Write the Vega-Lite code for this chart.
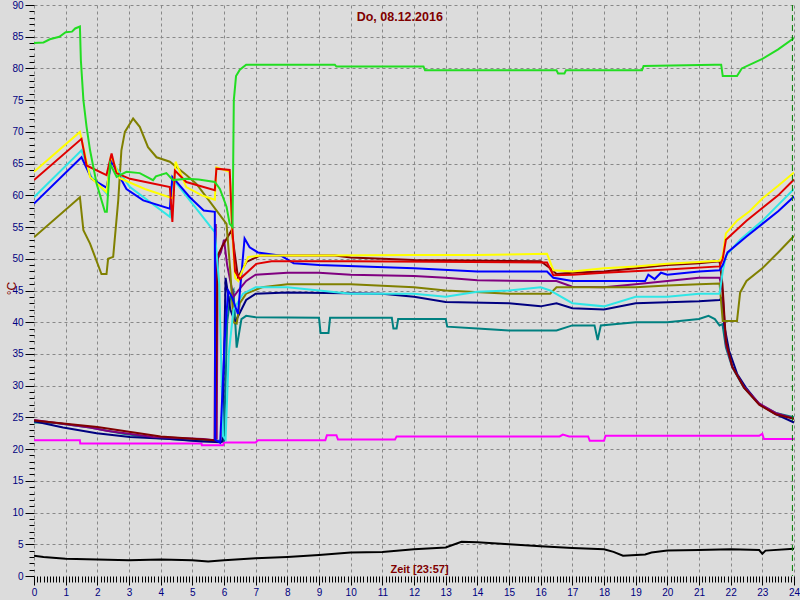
{
  "$schema": "https://vega.github.io/schema/vega-lite/v6.json",
  "width": 760,
  "height": 571,
  "autosize": {"type": "none"},
  "padding": {"left": 34, "top": 5, "right": 6, "bottom": 24},
  "background": "#dcdcdc",
  "config": {"view": {"stroke": null, "fill": "#dcdcdc"}},
  "layer": [
    {
      "data": {"values": [
        {"s": "schwarz", "x": [0, 0.3, 1, 2, 3, 4, 5, 5.5, 6, 7, 8, 9, 10, 11, 12, 13, 13.5, 14, 15, 16, 17, 18, 18.3, 18.6, 19.3, 19.5, 20, 21, 22, 22.9, 23, 23.1, 24],
         "y": [3.2, 3.0, 2.7, 2.6, 2.5, 2.6, 2.5, 2.3, 2.5, 2.8, 3.0, 3.3, 3.7, 3.8, 4.2, 4.5, 5.4, 5.3, 5.0, 4.7, 4.4, 4.2, 3.8, 3.2, 3.4, 3.7, 4.0, 4.1, 4.2, 4.1, 3.5, 4.0, 4.3]},
        {"s": "magenta", "x": [0, 1.45, 1.46, 5.29, 5.3, 5.97, 6.0, 7.0, 7.07, 9.2, 9.25, 9.55, 9.6, 11.4, 11.45, 16.6, 16.7, 16.9, 17.5, 17.55, 18.0, 18.05, 22.9, 23.0, 23.05, 24],
         "y": [21.4, 21.4, 20.9, 20.9, 20.6, 20.6, 21.05, 21.05, 21.4, 21.4, 22.2, 22.2, 21.5, 21.5, 22, 22, 22.3, 22, 22, 21.3, 21.3, 22.1, 22.1, 22.4, 21.6, 21.6]},
        {"s": "teal", "x": [0, 0.7, 1.77, 2.82, 3.76, 5.1, 5.95, 6.0, 6.1, 6.2, 6.3, 6.4, 6.55, 6.7, 7, 9, 9.05, 9.3, 9.35, 11.3, 11.35, 11.45, 11.5, 13, 13.05, 14, 15, 16.5, 17, 17.7, 17.8, 17.9, 19, 20, 21, 21.3, 21.5, 21.65, 21.74, 21.85, 22.05, 22.42, 22.9, 23.42, 24],
         "y": [24.2, 24.1, 23.4, 22.4, 21.8, 21.3, 21.3, 21.3, 40, 44, 45, 36, 40.5, 41, 40.8, 40.7, 38.3, 38.3, 40.7, 40.7, 39, 39, 40.5, 40.5, 39.3, 39, 38.7, 38.7, 39.5, 39.5, 37.2, 39.5, 40, 40, 40.5, 41, 40.5, 39.5, 39.7, 36, 32.9, 29.7, 27.1, 25.7, 25]},
        {"s": "navy", "x": [0, 0.92, 1.98, 3.03, 4.29, 5.32, 5.9, 5.95, 6.05, 6.2, 6.35, 6.5, 6.7, 7, 8, 11, 12, 13, 15, 16, 16.5, 17, 18, 19, 21, 21.65, 21.74, 21.79, 21.95, 22.21, 22.48, 22.9, 23.42, 24],
         "y": [24.4, 23.4, 22.5, 21.9, 21.6, 21.2, 21.1, 21.2, 47, 42, 40, 41.5, 43.5, 44.5, 44.7, 44.5, 44, 43.2, 43, 42.5, 43, 42.2, 42, 43, 43.3, 43.5, 43.9, 39.7, 35.5, 31.8, 29.7, 27.1, 25.5, 24.2]},
        {"s": "lila", "x": [0, 1.77, 2.29, 3.76, 5.34, 5.7, 5.74, 5.77, 5.8, 5.9, 6.0, 6.1, 6.3, 6.45, 6.7, 7, 8, 9, 10, 12, 13, 14, 16, 16.5, 17, 18, 19, 20, 21, 21.65, 21.74, 21.85, 22.05, 22.42, 22.9, 23.42, 24],
         "y": [24.6, 23.4, 22.9, 21.9, 21.6, 21.4, 55.5, 21.5, 50, 51, 53, 49, 44, 45, 46.5, 47.5, 47.8, 47.8, 47.5, 47.3, 47, 46.6, 46.5, 46.5, 45.6, 45.5, 46, 46.5, 47, 47, 45, 36.5, 33, 29.8, 27.2, 25.7, 24.8]},
        {"s": "bordeaux", "x": [0, 2, 4, 5.7, 5.72, 5.8, 5.95, 6.24, 6.44, 6.71, 7.13, 9.5, 10, 12, 16, 16.3, 16.5, 17, 18, 19, 20, 21, 21.65, 21.74, 21.85, 22.05, 22.42, 22.9, 23.42, 24],
         "y": [24.5, 23.5, 22, 21.4, 21.4, 50.5, 52, 54.5, 47.1, 49.5, 50.5, 50.5, 50.2, 49.8, 49.6, 48.5, 47.6, 47.8, 48, 48.5, 49, 49.3, 49.6, 46, 37, 33, 29.7, 27, 25.5, 24.8]},
        {"s": "oliv", "x": [0, 1.45, 1.56, 1.77, 2.13, 2.29, 2.34, 2.5, 2.66, 2.76, 2.87, 3.13, 3.34, 3.6, 3.87, 4.29, 4.81, 5.13, 5.6, 6.08, 6.2, 6.3, 6.4, 6.5, 6.7, 7.2, 8, 10, 12, 13, 15, 16.3, 16.5, 19, 20, 21, 21.65, 21.75, 22.2, 22.3, 22.5, 23, 23.5, 24],
         "y": [53.4, 59.7, 54.5, 52.4, 47.6, 47.6, 50, 50.3, 59.2, 67.1, 70, 72.1, 70.8, 67.6, 66, 65.3, 63.2, 61.8, 58.7, 55.5, 48, 40, 39.8, 43, 44.5, 45.5, 46, 46, 45.5, 45, 44.5, 44.5, 45.5, 45.5, 45.8, 46, 46.1, 40.2, 40.2, 44.7, 46.5, 48.5, 51, 53.6]},
        {"s": "tuerkis", "x": [0, 1.5, 1.8, 2.29, 2.43, 3.03, 4.29, 4.37, 4.92, 5.71, 5.85, 5.97, 6.05, 6.15, 6.3, 6.6, 7, 8, 9, 10, 12, 13, 14, 15, 16, 16.3, 17, 18, 19, 20, 21, 21.65, 21.75, 21.85, 22.3, 23, 23.5, 24],
         "y": [59.7, 67.1, 63, 60.3, 65.5, 61.3, 56.6, 62.7, 59.2, 54.2, 46, 22, 21.5, 35, 42, 44.5, 45.5, 45.5, 45, 44.5, 44.5, 44, 44.8, 45, 45.5, 45, 43, 42.5, 44, 44, 44.5, 44.5, 48, 50.5, 53, 56, 58.5, 61]},
        {"s": "blau", "x": [0, 1.5, 1.82, 2.29, 2.45, 2.92, 3.45, 4.29, 4.37, 4.92, 5.36, 5.71, 5.72, 5.88, 6.02, 6.13, 6.25, 6.44, 6.65, 6.81, 7.07, 7.8, 8.2, 9, 12, 14, 16.2, 16.4, 17, 19.3, 19.4, 19.6, 19.8, 20, 21, 21.65, 21.75, 21.9, 22.5, 23, 23.5, 24],
         "y": [58.7, 66, 62.6, 61.2, 65.3, 61, 59.2, 57.9, 62.9, 59.7, 57.6, 57.4, 21.5, 21, 37, 45, 44, 41.3, 53.2, 51.8, 51, 50.5, 49.3, 49, 48.5, 48, 48, 47, 46.5, 46.5, 47.5, 46.8, 47.8, 47.5, 48, 48.2, 49, 51, 53.5, 55.5, 57.5, 59.8]},
        {"s": "gelb", "x": [0, 1.45, 1.77, 2.29, 2.43, 2.71, 3.5, 4.39, 4.47, 4.81, 5.3, 5.71, 5.76, 6.18, 6.25, 6.35, 6.45, 6.76, 7.2, 9, 12, 14, 16.2, 16.4, 17, 18, 19, 20, 21, 21.65, 21.75, 21.85, 22.2, 22.6, 23, 23.5, 24],
         "y": [63.7, 70, 62.9, 60.5, 66.3, 62.7, 61, 59.5, 65.3, 61.3, 60, 59.3, 64.4, 63.7, 55, 47, 46.5, 50.3, 50.5, 50.5, 50.6, 50.6, 50.8, 48.2, 48, 48.5, 48.8, 49.2, 49.5, 49.7, 50.5, 54, 56, 57.5, 59.5, 61.5, 63.6]},
        {"s": "rot", "x": [0, 1.5, 1.66, 2.29, 2.45, 2.6, 3.03, 4.29, 4.37, 4.45, 4.81, 5.71, 5.76, 6.18, 6.25, 6.35, 6.5, 7.02, 7.5, 10, 16.2, 16.4, 17, 18, 20, 21.65, 21.75, 21.85, 22.5, 23, 23.5, 24],
         "y": [62.4, 68.9, 64.7, 63.2, 66.6, 63.5, 62.6, 61.3, 55.8, 63.9, 62.1, 60.8, 64.2, 64, 56, 48, 46.8, 49.2, 49.6, 49.6, 49.4, 47.4, 47.5, 47.8, 48.3, 48.8, 50, 53, 56, 58, 60, 62.5]},
        {"s": "gruen", "x": [0, 0.3, 0.5, 0.8, 1.0, 1.2, 1.3, 1.45, 1.48, 1.56, 1.66, 1.77, 1.98, 2.24, 2.3, 2.4, 2.61, 2.92, 3.34, 3.76, 3.85, 4.18, 4.39, 4.81, 5.2, 5.71, 5.87, 6.08, 6.18, 6.27, 6.31, 6.38, 6.5, 6.7, 9.5, 9.55, 12.3, 12.35, 16.5, 16.55, 16.75, 16.8, 19.2, 19.25, 21.5, 21.7, 21.75, 22.2, 22.35, 23, 23.5, 24],
         "y": [84, 84.1, 84.6, 85, 85.7, 85.8, 86.3, 86.6, 81.3, 75, 70.8, 67.1, 61.8, 57.4, 57.4, 65, 62.9, 63.7, 63.5, 62.4, 63, 63.5, 62.4, 62.6, 62.5, 62.1, 61, 58.2, 55.5, 55, 75, 78.8, 79.8, 80.6, 80.6, 80.3, 80.3, 79.7, 79.7, 79.2, 79.2, 79.7, 79.7, 80.4, 80.6, 80.6, 78.8, 78.8, 80, 81.5, 83, 84.8]}
      ]},
      "transform": [{"flatten": ["x", "y"]}],
      "mark": {"type": "line", "strokeWidth": 2, "clip": true},
      "encoding": {
        "x": {
          "field": "x", "type": "quantitative",
          "scale": {"domain": [0, 24], "nice": false, "zero": false},
          "axis": {
            "orient": "bottom",
            "tickCount": 240,
            "domain": false,
            "labelExpr": "abs(datum.value - round(datum.value)) < 0.01 ? '' + round(datum.value) : ''",
            "labelOverlap": false,
            "labelFlush": false,
            "labelBound": false,
            "labelColor": "#000080",
            "labelFont": "Liberation Sans",
            "labelFontSize": 10,
            "labelPadding": 2,
            "tickColor": "#000000",
            "tickSize": {"condition": {"test": "abs(datum.value - round(datum.value)) < 0.01", "value": 9}, "value": 6},
            "grid": true,
            "gridColor": "#888888",
            "gridDash": [3, 3],
            "gridOpacity": {"condition": {"test": "abs(datum.value - round(datum.value)) < 0.01", "value": 1}, "value": 0},
            "title": "Zeit [23:57]",
            "titleColor": "#800000",
            "titleFont": "Liberation Sans",
            "titleFontSize": 11,
            "titleFontWeight": "bold",
            "titleX": 385,
            "titleY": -4,
            "titleAlign": "center",
            "titleBaseline": "alphabetic"
          }
        },
        "y": {
          "field": "y", "type": "quantitative",
          "scale": {"domain": [0, 90], "nice": false},
          "axis": {
            "orient": "left",
            "tickCount": 90,
            "domain": false,
            "labelExpr": "datum.value % 5 === 0 ? datum.label : ''",
            "labelOverlap": false,
            "labelFlush": false,
            "labelBound": false,
            "labelColor": "#000080",
            "labelFont": "Liberation Sans",
            "labelFontSize": 10,
            "labelPadding": 2,
            "tickColor": "#000000",
            "tickSize": {"condition": {"test": "datum.value % 5 === 0", "value": 9}, "value": 5},
            "grid": true,
            "gridColor": "#888888",
            "gridDash": [3, 3],
            "gridOpacity": {"condition": {"test": "datum.value % 5 === 0 && datum.value > 0", "value": 1}, "value": 0},
            "title": "°C",
            "titleColor": "#800000",
            "titleFont": "Liberation Sans",
            "titleFontSize": 12,
            "titleFontWeight": "normal",
            "titleAngle": 270,
            "titleX": -23,
            "titleY": 283,
            "titleAlign": "center",
            "titleBaseline": "middle"
          }
        },
        "color": {
          "field": "s", "type": "nominal", "legend": null,
          "scale": {
            "domain": ["schwarz", "magenta", "teal", "navy", "lila", "bordeaux", "oliv", "tuerkis", "blau", "gelb", "rot", "gruen"],
            "range": ["#000000", "#ff00ff", "#008080", "#000080", "#800080", "#800000", "#808000", "#30e6e6", "#0000ff", "#ffff00", "#e00000", "#22dd22"]
          }
        }
      }
    },
    {
      "data": {"values": [{"t": 23.95}]},
      "mark": {"type": "rule", "color": "#008000", "strokeDash": [6, 4], "strokeWidth": 1},
      "encoding": {"x": {"field": "t", "type": "quantitative"}}
    },
    {
      "data": {"values": [{"label": "Do, 08.12.2016"}]},
      "mark": {"type": "text", "color": "#800000", "font": "Liberation Sans", "fontSize": 12.5, "fontWeight": "bold", "align": "center", "baseline": "middle"},
      "encoding": {
        "x": {"datum": 11.55},
        "y": {"datum": 88.1},
        "text": {"field": "label"}
      }
    }
  ]
}
